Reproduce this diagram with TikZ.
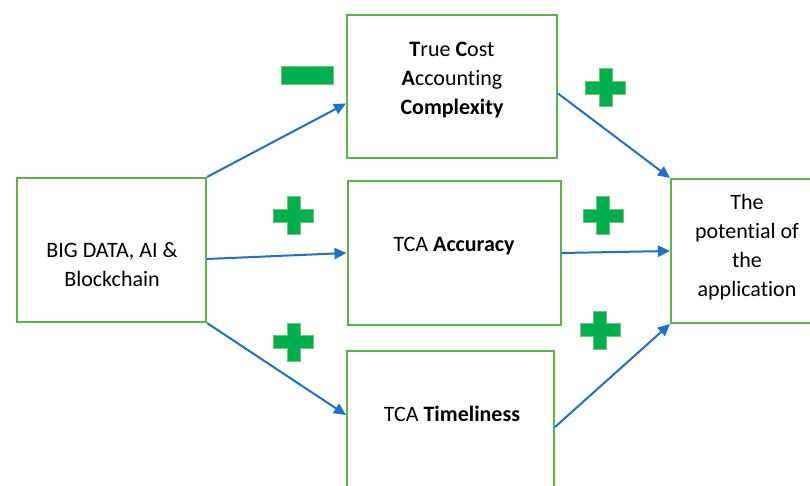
\documentclass[tikz,border=0pt]{standalone}
\usepackage{fontspec}
\setmainfont[Ligatures=NoCommon]{Carlito}
\usetikzlibrary{arrows.meta,calc}
\definecolor{boxgreen}{RGB}{92,180,72}
\definecolor{plusgreen}{RGB}{0,176,80}
\definecolor{plusedge}{RGB}{110,200,110}
\definecolor{arrowblue}{RGB}{30,112,200}
\tikzset{
  box/.style={draw=boxgreen, line width=2pt, fill=white, inner sep=0pt},
  txt/.style={font=\fontsize{22}{29}\selectfont, align=center, inner sep=0pt},
  arr/.style={draw=arrowblue, line width=2pt, -{Triangle[length=12pt,width=11pt]}},
  sign/.style={fill=plusgreen, draw=plusedge, line width=0.8pt},
  plussign/.pic={\path[sign] (-6.5,-19) -- (6.5,-19) -- (6.5,-6.5) -- (20,-6.5) -- (20,6.5) -- (6.5,6.5) -- (6.5,19) -- (-6.5,19) -- (-6.5,6.5) -- (-20,6.5) -- (-20,-6.5) -- (-6.5,-6.5) -- cycle;}
}
\begin{document}
\begin{tikzpicture}[x=1pt,y=-1pt]
\useasboundingbox (0,0) rectangle (810,486);
\clip (0,0) rectangle (810,486);
\fill[white] (0,0) rectangle (810,486);
% boxes
\node[box, minimum width=189pt, minimum height=144pt] (src) at (111.5,250) {};
\node[box, minimum width=210pt, minimum height=143pt] (cx) at (452,86.5) {};
\node[box, minimum width=213pt, minimum height=144pt] (acc) at (454,253) {};
\node[box, minimum width=207pt, minimum height=140pt] (tim) at (450.5,421) {};
\node[box, minimum width=160pt, minimum height=144pt] (pot) at (751,251) {};
% texts
\node[txt] (srct) at (112,265) {BIG DATA, AI \&\\Blockchain};
\node[txt] (cxt) at (452,80) {\textbf{T}rue \textbf{C}ost\\\textbf{A}ccounting\\\textbf{Complexity}};
\node[txt] (acct) at (454,246) {TCA \textbf{Accuracy}};
\node[txt] (timt) at (452,414) {TCA \textbf{Timeliness}};
\node[txt] (pott) at (747,247) {The\\potential of\\the\\application};
% connectors
\coordinate (cxin) at ([yshift=-17pt]cx.west);
\coordinate (srcmid) at ([yshift=-9pt]src.east);
\coordinate (timin) at ([yshift=6pt]tim.west);
\coordinate (cxout) at ([yshift=-7pt]cx.east);
\coordinate (timout) at ([yshift=-6pt]tim.east);
\draw[arr] (src.north east) -- (cxin);
\draw[arr] (srcmid) -- (acc.west);
\draw[arr] (src.south east) -- (timin);
\draw[arr] (cxout) -- (pot.north west);
\draw[arr] (acc.east) -- (pot.west);
\draw[arr] (timout) -- (pot.south west);
% signs
\path[sign] (281,66) rectangle (333,84);
\pic at (605.8,87.7) {plussign};
\pic at (603,215.7) {plussign};
\pic at (600,330) {plussign};
\pic at (293.7,215.7) {plussign};
\pic at (293.7,342.3) {plussign};
\end{tikzpicture}
\end{document}
